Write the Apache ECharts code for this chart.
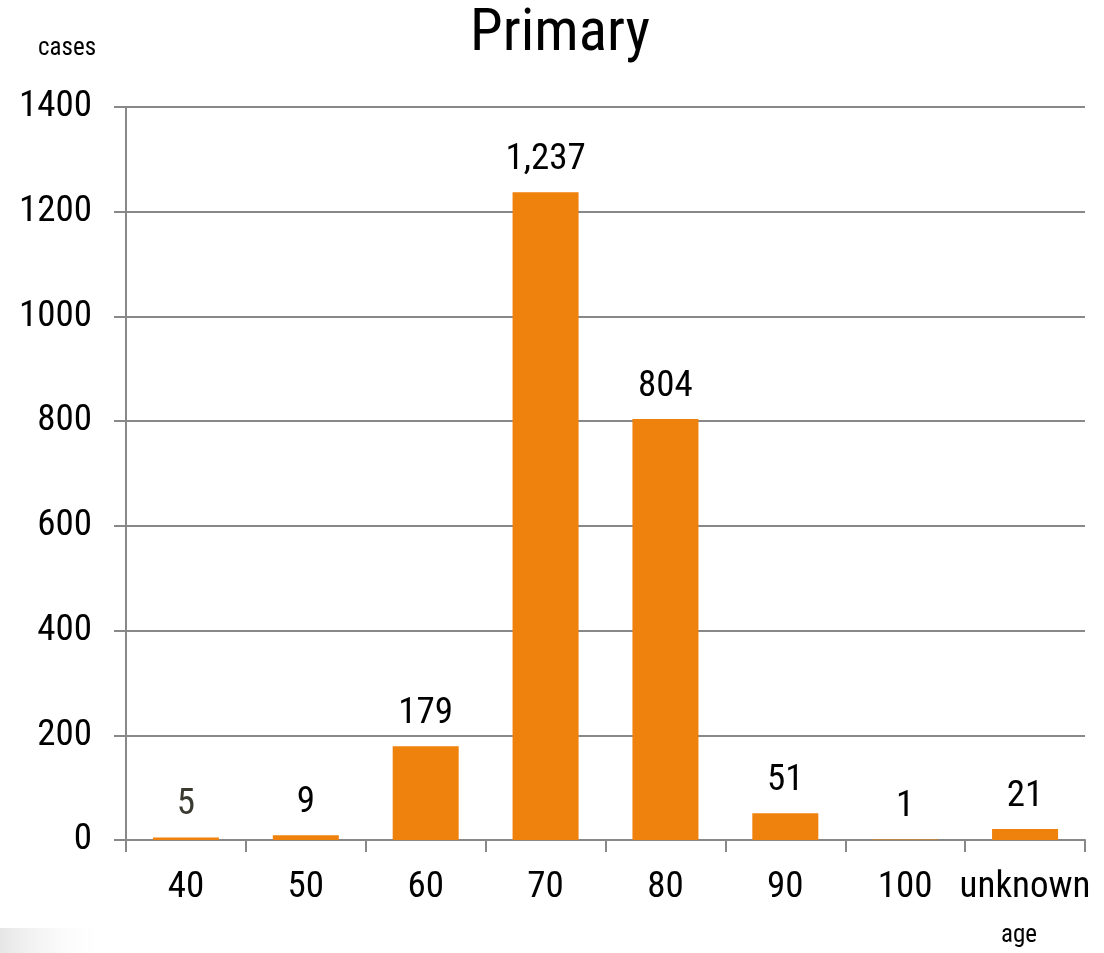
<!DOCTYPE html>
<html><head><meta charset="utf-8">
<script src="https://cdn.jsdelivr.net/npm/echarts@6/dist/echarts.min.js"></script>
<style>html,body{margin:0;padding:0;background:#fff}#c{width:1104px;height:953px}</style>
</head><body><div id="c"></div>
<script>
const categories = ['40','50','60','70','80','90','100','unknown'];
const cases = [5, 9, 179, 1237, 804, 51, 1, 21];
const yTicks = [0, 200, 400, 600, 800, 1000, 1200, 1400];
const FONT = '"Roboto Condensed", "Liberation Sans Narrow", sans-serif';
const chart = echarts.init(document.getElementById('c'));
chart.setOption({
  animation: false,
  title: { text: 'Primary', left: 555, top: 1, textAlign: 'center',
    textStyle: { fontFamily: FONT, fontSize: 59, fontWeight: 'normal', color: '#000' } },
  grid: { left: 126, right: 19, top: 107, bottom: 113 },
  xAxis: {
    type: 'category', data: categories,
    axisLine: { lineStyle: { color: '#888', width: 2 } },
    axisTick: { show: true, length: 12, lineStyle: { color: '#888', width: 2 } },
    axisLabel: { fontFamily: FONT, fontSize: 37, color: '#000', margin: 29, interval: 0 }
  },
  yAxis: {
    type: 'value', min: yTicks[0], max: yTicks[yTicks.length - 1], interval: 200,
    axisLine: { show: true, lineStyle: { color: '#888', width: 2 } },
    axisTick: { show: true, length: 12, lineStyle: { color: '#888', width: 2 } },
    splitLine: { lineStyle: { color: '#888', width: 2 } },
    axisLabel: { fontFamily: FONT, fontSize: 37, color: '#000', margin: 34,
      formatter: v => String(v) }
  },
  graphic: [
    { type: 'text', left: 38, top: 36, style: { text: 'cases', font: '25px ' + FONT, fill: '#000' } },
    { type: 'text', left: 1001, top: 923, style: { text: 'age', font: '25px ' + FONT, fill: '#000' } },
    { type: 'rect', shape: { x: 0, y: 928, width: 110, height: 25 }, silent: true,
      style: { fill: new echarts.graphic.LinearGradient(0, 0, 1, 0, [
        { offset: 0, color: '#e6e6e6' }, { offset: 1, color: 'rgba(255,255,255,0)' }]) } }
  ],
  series: [{
    type: 'bar',
    data: cases.map((v, i) => i === 0 ? { value: v, label: { color: '#3a3a30' } } : v),
    barWidth: 66,
    itemStyle: { color: '#EF810D' },
    label: { show: true, position: 'top', distance: 14, fontFamily: FONT, fontSize: 37, color: '#000',
      formatter: p => p.value.toLocaleString('en-US') }
  }]
});
</script></body></html>
